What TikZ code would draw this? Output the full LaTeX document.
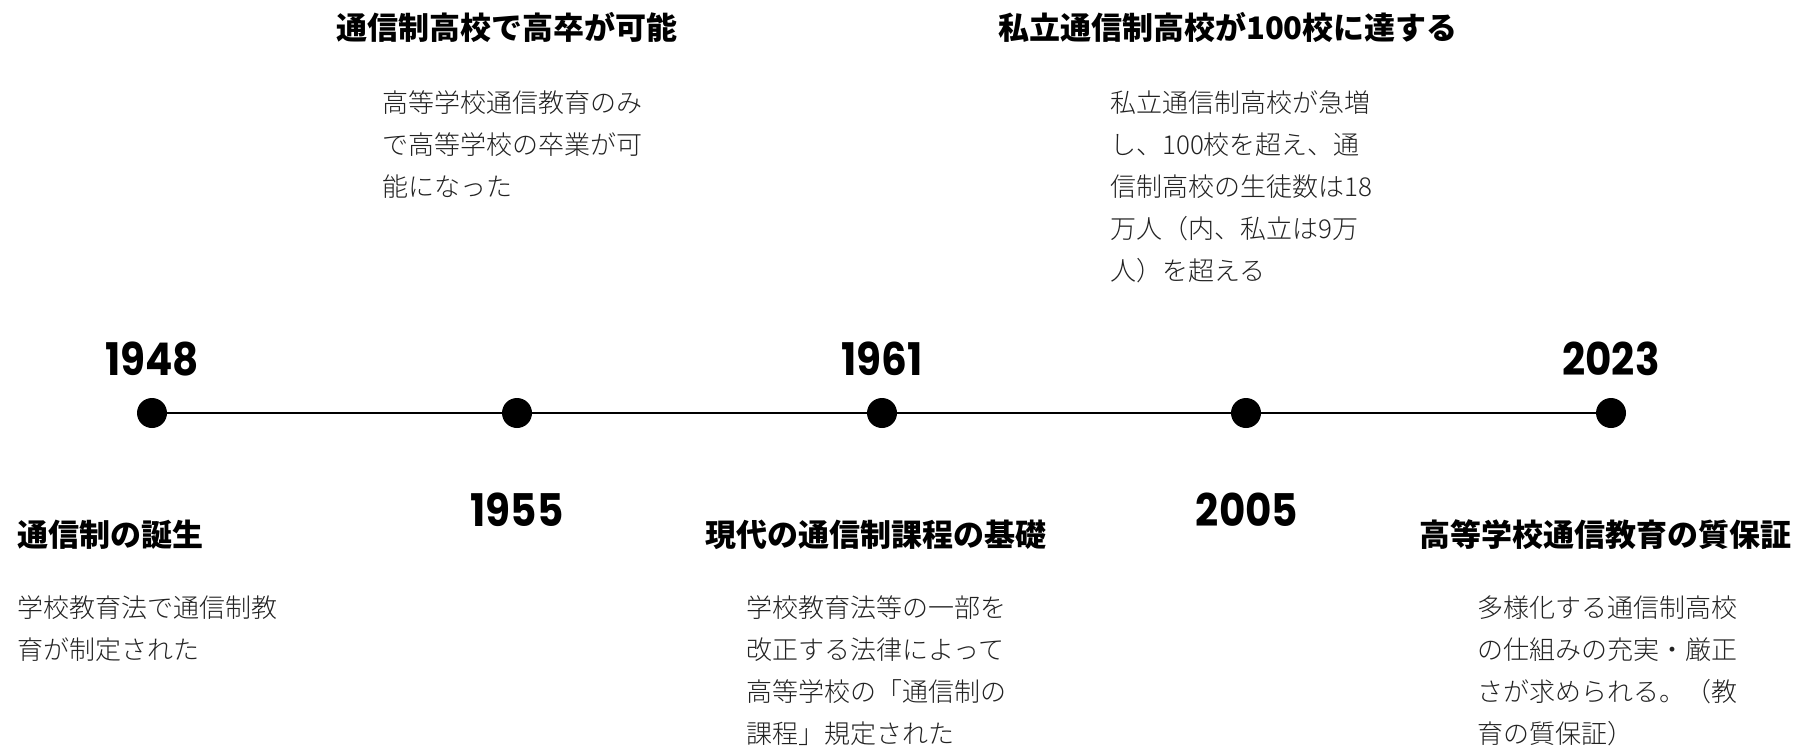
\documentclass[tikz,border=0pt]{standalone}
\usepackage{fontspec}
\newfontfamily\jp{Noto Sans CJK JP}
\newfontfamily\jplight{Noto Sans CJK JP Light}
\newfontfamily\yearfnt[FakeStretch=0.9]{Poppins}
\definecolor{bodygray}{HTML}{222222}
\begin{document}
\begin{tikzpicture}[x=1pt,y=-1pt,
  dot/.style={circle,fill=black,inner sep=0pt,minimum size=30pt},
  tline/.style={line width=2.5pt,black},
  year/.style={anchor=base,inner sep=0pt,font=\yearfnt\bfseries\fontsize{45}{50}\selectfont},
  head/.style={anchor=base,inner sep=0pt,font=\jp\bfseries\fontsize{31}{36}\selectfont},
  body/.style={anchor=north west,inner sep=0pt,align=left,text=bodygray,font=\jplight\fontsize{26}{42}\selectfont}]
\useasboundingbox (0,0) rectangle (1803,747);
% dots
\node[dot] (d1) at (152,413) {};
\node[dot] (d2) at (517,413) {};
\node[dot] (d3) at (882,413) {};
\node[dot] (d4) at (1246,413) {};
\node[dot] (d5) at (1611,413) {};
\draw[tline] (d1) -- (d2);
\draw[tline] (d2) -- (d3);
\draw[tline] (d3) -- (d4);
\draw[tline] (d4) -- (d5);
% years
\node[year] (y1) at (152,375) {1948};
\node[year] (y2) at (517,526) {1955};
\node[year] (y3) at (882,375) {1961};
\node[year] (y4) at (1247,526) {2005};
\node[year] (y5) at (1611,375) {2023};
% headings
\node[head] (h2) at (507,39) {通信制高校で高卒が可能};
\node[head] (h4) at (1228,39) {私立通信制高校が100校に達する};
\node[head,anchor=base west] (h1) at (17,546) {通信制の誕生};
\node[head] (h3) at (876,546) {現代の通信制課程の基礎};
\node[head] (h5) at (1605,546) {高等学校通信教育の質保証};
% bodies
\node[body] (b2) at (382,83) {\strut 高等学校通信教育のみ\\で高等学校の卒業が可\\能になった};
\node[body] (b4) at (1110,83) {\strut 私立通信制高校が急増\\し、100校を超え、通\\信制高校の生徒数は18\\万人（内、私立は9万\\人）を超える};
\node[body] (b1) at (17,588) {\strut 学校教育法で通信制教\\育が制定された};
\node[body] (b3) at (746,588) {\strut 学校教育法等の一部を\\改正する法律によって\\高等学校の「通信制の\\課程」規定された};
\node[body] (b5) at (1477,588) {\strut 多様化する通信制高校\\の仕組みの充実・厳正\\さが求められる。（教\\育の質保証）};
\end{tikzpicture}
\end{document}
